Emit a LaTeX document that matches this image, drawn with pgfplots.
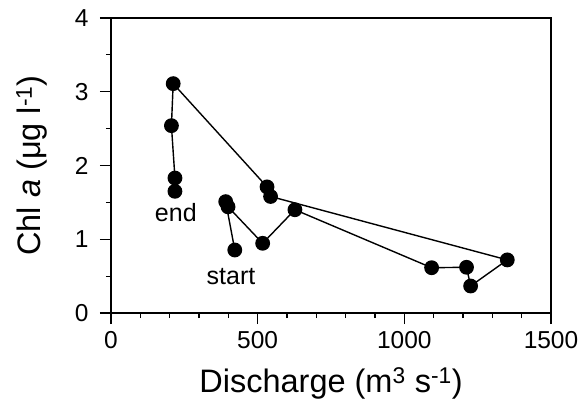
\documentclass[border=0pt]{standalone}
\usepackage{fontspec}
\setmainfont{Liberation Sans}
\usepackage{pgfplots}
\pgfplotsset{compat=1.18}
\begin{document}
\begin{tikzpicture}
\begin{axis}[
  scale only axis,
  width=440bp, height=295bp,
  xmin=0, xmax=1500, ymin=0, ymax=4,
  xtick={0,500,1000,1500}, ytick={0,1,2,3,4},
  minor x tick num=4, minor y tick num=1,
  tick pos=left, tick align=outside,
  major tick length=11bp, minor tick length=5bp,
  every tick/.style={black, line width=1.2bp},
  axis line style={line width=1.3bp},
  /pgf/number format/assume math mode=true,
  /pgf/number format/1000 sep={},
  tick label style={font=\fontsize{24.5bp}{28bp}\selectfont},
  xticklabel style={yshift=-4bp},
  yticklabel style={xshift=-8bp},
  label style={font=\fontsize{32.5bp}{36bp}\selectfont},
  xlabel={Discharge (m\textsuperscript{3} s\textsuperscript{-1})},
  ylabel={Chl \textit{a} (μg l\textsuperscript{-1})},
  xlabel style={at={([yshift=-70bp]axis description cs:0.5,0)}, anchor=center},
  ylabel style={at={([xshift=-79bp]axis description cs:0,0.5)}, anchor=center},
  clip=false,
]
\addplot[black, line width=1.4bp, mark=*, mark size=6.7bp, mark options={fill=black}] coordinates {
  (422,0.854) (391,1.51) (399,1.44) (517,0.945) (627,1.40)
  (1093,0.614) (1212,0.62) (1226,0.366) (1351,0.72)
  (544,1.58) (532,1.71) (212,3.11) (206,2.54) (218,1.83) (218,1.65)
};
\node[font=\fontsize{25bp}{28bp}\selectfont] at (axis cs:409,0.49) {start};
\node[font=\fontsize{25bp}{28bp}\selectfont] at (axis cs:221,1.36) {end};
\end{axis}
\path (current axis.south west) ++(-111bp,-99bp);
\path (current axis.north east) ++(31bp,18bp);
\end{tikzpicture}
\end{document}
